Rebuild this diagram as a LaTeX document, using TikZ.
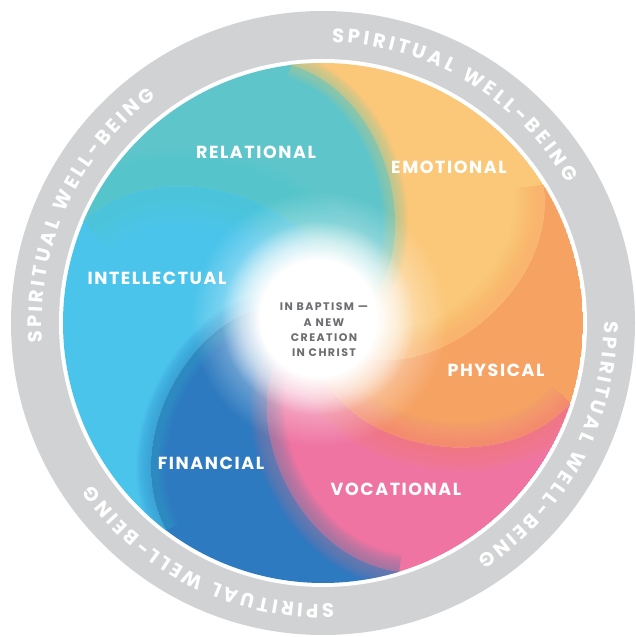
\documentclass[tikz,border=0pt]{standalone}
\usepackage{fontspec}
\setmainfont{Poppins}
\newfontfamily\labfont{Poppins}[LetterSpace=9]
\newfontfamily\ctrfont{Poppins}[LetterSpace=13]
\usetikzlibrary{decorations.text,fadings}
\definecolor{cRing}{HTML}{D1D2D4}
\definecolor{cTeal}{HTML}{5EC5CB}
\definecolor{cYellow}{HTML}{FBC87A}
\definecolor{cOrange}{HTML}{F6A263}
\definecolor{cPink}{HTML}{EF74A1}
\definecolor{cDB}{HTML}{2D7AC0}
\definecolor{cLB}{HTML}{4BC4EC}
\definecolor{cGrayText}{HTML}{6D6E71}
\newcommand\ringfmt{\bfseries\fontsize{19.5}{19.5}\selectfont}
\pgfdeclareradialshading{glowsh}{\pgfpointorigin}{color(0bp)=(pgftransparent!0); color(15bp)=(pgftransparent!0); color(25bp)=(pgftransparent!100); color(50bp)=(pgftransparent!100)}
\pgfdeclarefading{glowfade}{\pgfuseshading{glowsh}}
\begin{document}
\begin{tikzpicture}[x=1pt,y=1pt,
  lab/.style={text=white, font=\labfont\bfseries\fontsize{17.5}{17.5}\selectfont, inner sep=0pt},
  ctr/.style={text=cGrayText, font=\ctrfont\bfseries\fontsize{11}{15.3}\selectfont, align=center, inner sep=0pt},
  ringtext/.style={decorate, decoration={text along path, text color=white, text align=fit to path, text={|\ringfmt|SPIRITUAL WELL-BEING}}}]
\useasboundingbox (-323,-314) rectangle (313,323);
\fill[cRing] (0,0) circle (312);
\fill[white] (0,0) circle (264);
\begin{scope}
\clip (0,0) circle (260);
% colour regions between spiral boundaries
\foreach \a/\b/\c in {245/295/cOrange, 295/360/cYellow, 0/60/cTeal, 60/136/cLB, 136/190/cDB, 190/245/cPink}
  \fill[\c] (0,0) .. controls ({\a+5.2}:110.5) and ({\a+67.75}:237.7) .. ({\a+97}:260)
    arc[start angle={\a+97}, end angle={\b+97}, radius=260]
    .. controls ({\b+67.75}:237.7) and ({\b+5.2}:110.5) .. (0,0) -- cycle;
% soft boundaries
\foreach \a/\w/\m in {295/60/{cOrange!50!cYellow}, 0/26/{cYellow!50!cTeal}, 60/80/{cTeal!50!cLB}, 136/30/{cLB!50!cDB}, 190/36/{cDB!50!cPink}, 245/50/{cPink!50!cOrange}}
  \foreach \i in {1,...,24}
    \draw[line width={\w*\i/24}, color=\m, opacity=.047]
      (0,0) .. controls ({\a+5.2}:110.5) and ({\a+67.75}:237.7) .. ({\a+97}:260);
% central glow
\fill[white, path fading=glowfade, opacity=.45] (-4,4) circle (128);
\fill[white, path fading=glowfade] (-5,5) circle (97);
\end{scope}
% ring text
\path[ringtext] (88.2:281) arc[start angle=88.2, end angle=29.9, radius=281];
\path[ringtext] (0.4:281) arc[start angle=0.4, end angle=-56.8, radius=281];
\path[ringtext] (-87.8:281) arc[start angle=-87.8, end angle=-144.9, radius=281];
\path[ringtext] (184:281) arc[start angle=184, end angle=126.5, radius=281];
% labels
\node[lab] (rel) at (-67,171) {RELATIONAL};
\node[lab] (emo) at (126,156) {EMOTIONAL};
\node[lab] (int) at (-166,45) {INTELLECTUAL};
\node[lab] (phy) at (173,-47) {PHYSICAL};
\node[lab] (fin) at (-112,-140) {FINANCIAL};
\node[lab] (voc) at (73,-166) {VOCATIONAL};
\node[ctr] (ctrtext) at (1,-7) {IN BAPTISM —\\A NEW\\CREATION\\IN CHRIST};
\end{tikzpicture}
\end{document}
